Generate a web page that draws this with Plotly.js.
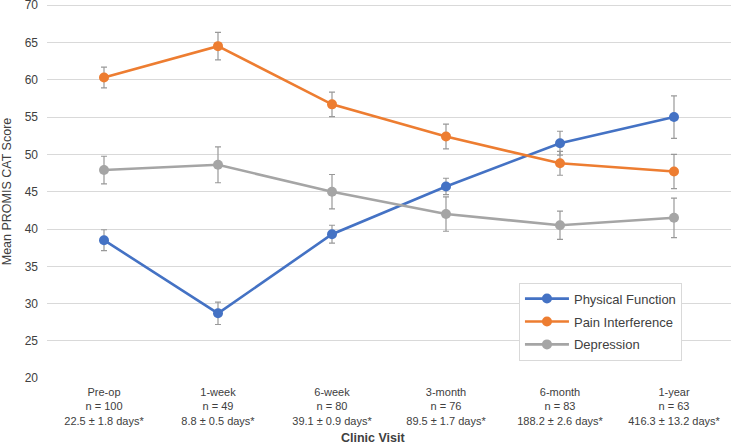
<!DOCTYPE html>
<html>
<head>
<meta charset="utf-8">
<script src="https://cdn.plot.ly/plotly-3.0.1.min.js"></script>
<style>html,body{margin:0;padding:0;background:#fff;}#chart{width:731px;height:446px;}</style>
</head>
<body>
<div id="chart"></div>
<script>
const categories = ["Pre-op", "1-week", "6-week", "3-month", "6-month", "1-year"];
const sampleSizes = ["n = 100", "n = 49", "n = 80", "n = 76", "n = 83", "n = 63"];
const daysLabels = ["22.5 ± 1.8 days*", "8.8 ± 0.5 days*", "39.1 ± 0.9 days*", "89.5 ± 1.7 days*", "188.2 ± 2.6 days*", "416.3 ± 13.2 days*"];
const yTicks = [20, 25, 30, 35, 40, 45, 50, 55, 60, 65, 70];

const physicalFunction = [38.5, 28.7, 39.3, 45.7, 51.5, 55.0];
const physicalFunctionErr = [1.4, 1.5, 1.2, 1.1, 1.6, 2.85];
const painInterference = [60.3, 64.5, 56.7, 52.4, 48.8, 47.7];
const painInterferenceErr = [1.4, 1.85, 1.65, 1.65, 1.6, 2.3];
const depression = [47.9, 48.6, 45.0, 42.0, 40.5, 41.5];
const depressionErr = [1.85, 2.4, 2.3, 2.3, 1.9, 2.65];

const tickText = categories.map((c, i) => c + "<br>" + sampleSizes[i] + "<br>" + daysLabels[i]);
const xIdx = categories.map((c, i) => i);

function series(name, y, err, color, group) {
  return {
    type: "scatter", mode: "lines+markers", name: name, x: xIdx, y: y,
    legendgroup: group,
    line: {color: color, width: 2.6},
    marker: {color: color, size: 10},
    error_y: {type: "data", array: err, visible: true, color: "#999999", thickness: 1.2, width: 3}
  };
}

const data = [
  series("Physical Function", physicalFunction, physicalFunctionErr, "#4472C4", "a"),
  series("Pain Interference", painInterference, painInterferenceErr, "#ED7D31", "b"),
  series("Depression", depression, depressionErr, "#A5A5A5", "c")
];

const font = "Liberation Sans, Arial, sans-serif";
const layout = {
  width: 731, height: 446,
  margin: {l: 47, r: 0, t: 4, b: 67},
  paper_bgcolor: "#ffffff", plot_bgcolor: "#ffffff",
  font: {family: font, color: "#404040", size: 12},
  showlegend: true,
  legend: {
    x: 0.69, y: 0.257, xanchor: "left", yanchor: "top",
    bgcolor: "#ffffff", bordercolor: "#d9d9d9", borderwidth: 1,
    font: {family: font, size: 13, color: "#404040"},
    tracegroupgap: 3, traceorder: "grouped", itemwidth: 44
  },
  xaxis: {
    range: [-0.5, 5.5], tickmode: "array", tickvals: xIdx, ticktext: tickText,
    showgrid: false, zeroline: false, showline: false, ticks: "",
    tickfont: {family: font, size: 11, color: "#404040"},
    ticklabelstandoff: 5,
    fixedrange: true
  },
  yaxis: {
    range: [19.9, 70.15], tickmode: "array", tickvals: yTicks,
    showgrid: true, gridcolor: "#d9d9d9", gridwidth: 1,
    zeroline: false, showline: false, ticks: "",
    tickfont: {family: font, size: 12, color: "#404040"},
    ticklabelstandoff: 8, ticklabeloverflow: "allow",
    title: {text: "Mean PROMIS CAT Score", font: {family: font, size: 12.5, color: "#404040"}, standoff: 10},
    fixedrange: true
  },
  annotations: [{
    text: "<b>Clinic Visit</b>", xref: "paper", yref: "paper", x: 0.478, y: -0.182,
    xanchor: "center", yanchor: "bottom", showarrow: false,
    font: {family: font, size: 12.5, color: "#404040"}
  }]
};

Plotly.newPlot("chart", data, layout, {displayModeBar: false, staticPlot: true});
</script>
</body>
</html>
